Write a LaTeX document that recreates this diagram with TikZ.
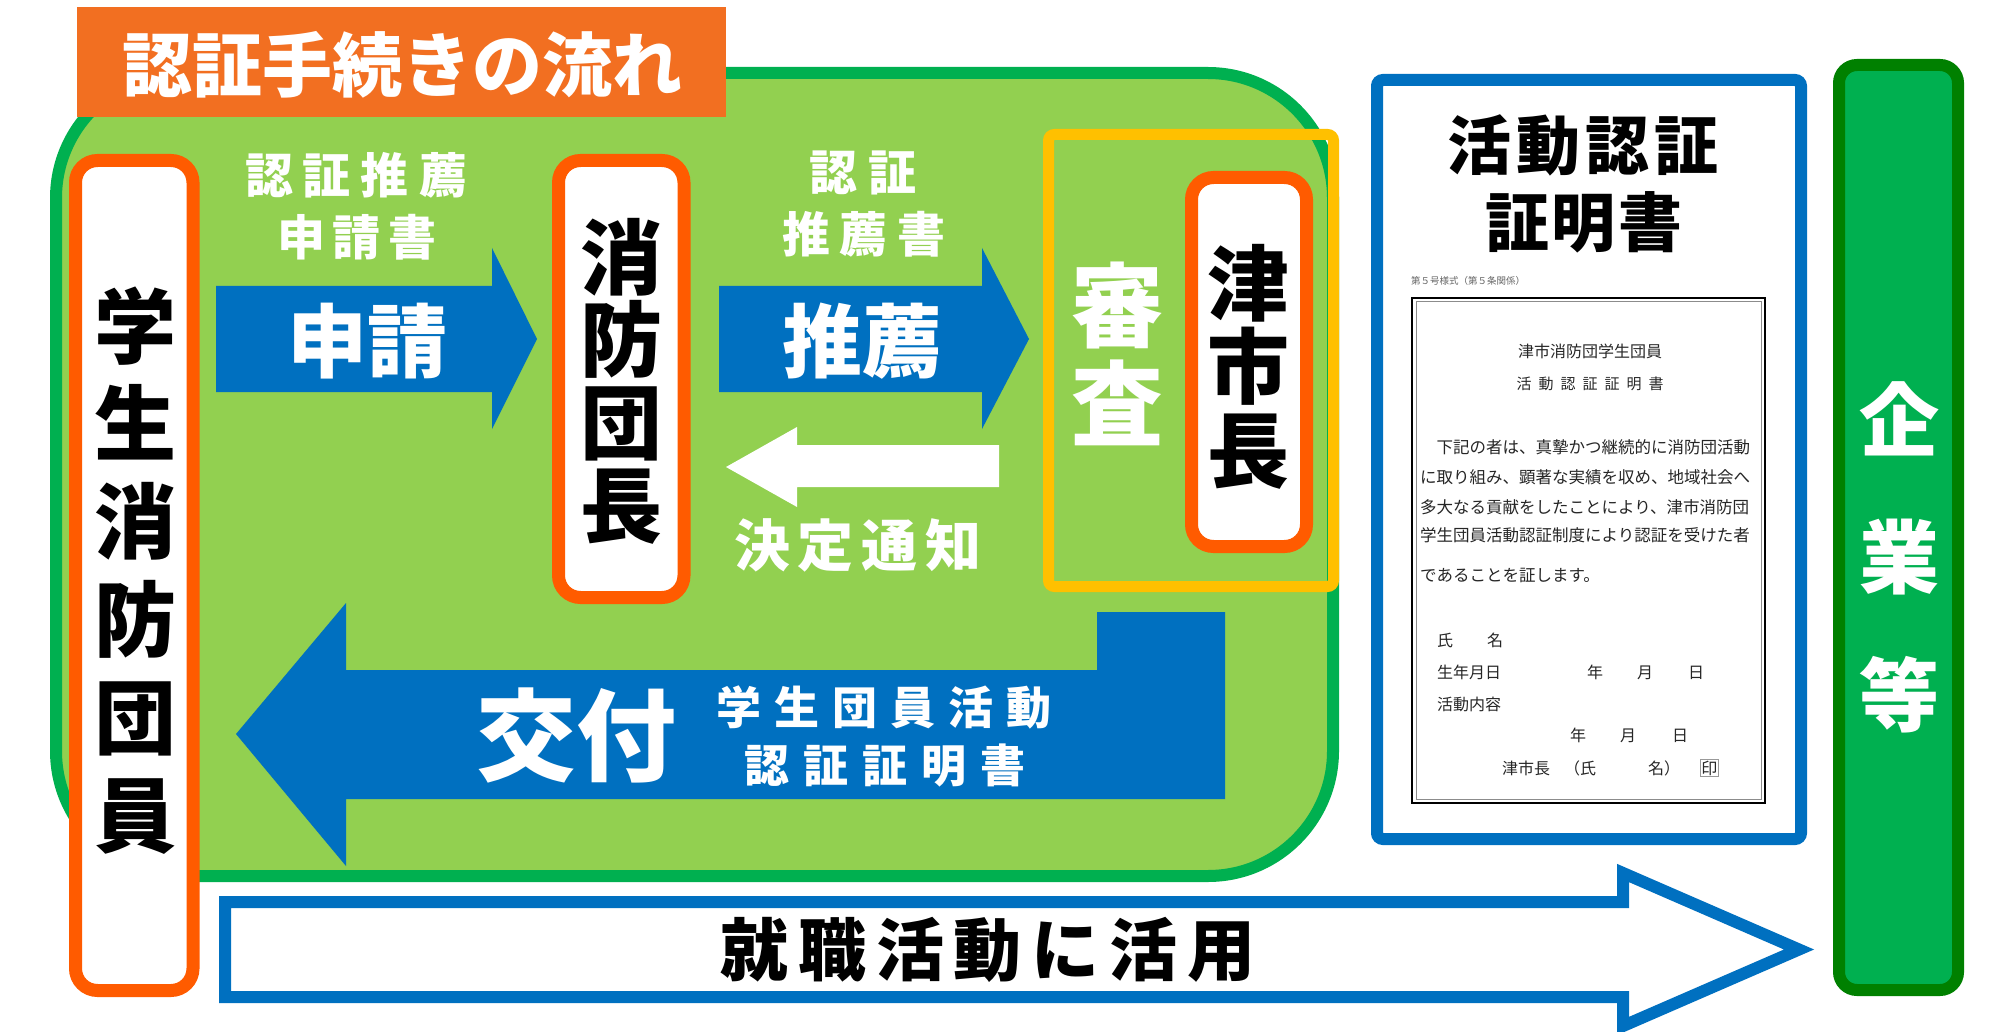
\documentclass[tikz,border=0pt]{standalone}
\usepackage{fontspec}
\newfontfamily\jp{Noto Sans CJK JP}
\IfFontExistsTF{Noto Sans CJK JP Black}
  {\newfontfamily\jpb{Noto Sans CJK JP Black}}
  {\IfFontExistsTF{Noto Sans CJK JP Bold}
     {\newfontfamily\jpb{Noto Sans CJK JP Bold}[FakeBold=1]}
     {\newfontfamily\jpb{Noto Sans CJK JP}[FakeBold=2]}}
\definecolor{panelgreen}{RGB}{146,208,80}
\definecolor{bordergreen}{RGB}{0,176,80}
\definecolor{darkgreen}{RGB}{0,128,0}
\definecolor{myblue}{RGB}{0,112,192}
\definecolor{titleorange}{RGB}{242,111,33}
\definecolor{boxorange}{RGB}{255,91,0}
\definecolor{myyellow}{RGB}{255,192,0}
\tikzset{
  jt/.style={font=\jpb\fontsize{#1}{#1}\selectfont, inner sep=0pt, anchor=base, yshift=-0.38*#1},
  dt/.style={font=\jp\fontsize{#1}{#1}\selectfont, inner sep=0pt, anchor=base west, yshift=-0.38*#1, text=black!85},
  obox/.style={draw=boxorange, line width=13, fill=white, rounded corners=22, inner sep=0pt},
  blockarrow/.style={fill=myblue},
}
\begin{document}
\begin{tikzpicture}[x=1pt,y=-1pt]
\useasboundingbox (0,0) rectangle (2000,1032);
\fill[white] (0,0) rectangle (2000,1032);
% panel
\draw[line width=12, draw=bordergreen, fill=panelgreen, rounded corners=125] (56,73) rectangle (1333,876);
% title
\fill[titleorange] (77,7) rectangle (726,117);
\node[jt=70, text=white] (title) at (402,65) {認証手続きの流れ};
% boxes
\node[obox, minimum width=117.5, minimum height=830] (student) at (134.25,575.5) {};
\node[obox, minimum width=125.5, minimum height=437] (chief) at (621.25,379) {};
\node[obox, minimum width=115, minimum height=369] (mayor) at (1249,362) {};
\node[draw=myyellow, line width=11, rounded corners=6, minimum width=285, minimum height=452, inner sep=0pt] (review) at (1191,360.5) {};
% vertical texts
\foreach \c [count=\i from 0] in {学,生,消,防,団,員}
  \node[jt=82, name=s\i] at (135,{326+97.8*\i}) {\c};
\foreach \c [count=\i from 0] in {消,防,団,長}
  \node[jt=82, name=c\i] at (621,{257+82.7*\i}) {\c};
\foreach \c [count=\i from 0] in {津,市,長}
  \node[jt=82, name=m\i] at (1248,{283+83.5*\i}) {\c};
\foreach \c [count=\i from 0] in {審,査}
  \node[jt=92, text=white, name=r\i] at (1117,{306+98*\i}) {\c};
% arrows
\fill[blockarrow] (216,286) -- (492,286) -- (492,248) -- (537,339) -- (492,429) -- (492,392) -- (216,392) -- cycle;
\fill[blockarrow] (719,286) -- (982,286) -- (982,248) -- (1029,339) -- (982,429) -- (982,392) -- (719,392) -- cycle;
\fill[white] (999,445) -- (797,445) -- (797,427) -- (726,467) -- (797,507) -- (797,487) -- (999,487) -- cycle;
\fill[blockarrow] (236,734) -- (346,603) -- (346,670) -- (1097,670) -- (1097,612) -- (1225,612) -- (1225,799) -- (346,799) -- (346,866) -- cycle;
% arrow texts
\node[jt=80, text=white] (apply) at (367,341) {申請};
\node[jt=80, text=white] (recommend) at (862,341) {推薦};
\node[jt=48, text=white] (l1) at (356,175) {認\hspace{10pt}証\hspace{10pt}推\hspace{10pt}薦};
\node[jt=48, text=white] (l2) at (357,237) {申\hspace{8pt}請\hspace{8pt}書};
\node[jt=48, text=white] (l3) at (863,172) {認\hspace{11pt}証};
\node[jt=48, text=white] (l4) at (864,234) {推\hspace{10pt}薦\hspace{10pt}書};
\node[jt=56, text=white] (notice) at (858,545) {決\hspace{8pt}定\hspace{8pt}通\hspace{8pt}知};
\node[jt=100, text=white] (issue) at (576,735) {交付};
\node[jt=45, text=white] (l5) at (884,707) {学\hspace{13pt}生\hspace{13pt}団\hspace{13pt}員\hspace{13pt}活\hspace{13pt}動};
\node[jt=45, text=white] (l6) at (885,765) {認\hspace{14pt}証\hspace{14pt}証\hspace{14pt}明\hspace{14pt}書};
% certificate
\node[draw=myblue, line width=12, fill=white, rounded corners=6, minimum width=424, minimum height=759, inner sep=0pt] (cert) at (1589,459.5) {};
\node[jt=64] (ct1) at (1583,145) {活\hspace{5pt}動\hspace{5pt}認\hspace{5pt}証};
\node[jt=64] (ct2) at (1584,222) {証\hspace{3pt}明\hspace{3pt}書};
\node[dt=9.5, text=black!60] (form) at (1411,281) {第５号様式（第５条関係）};
\draw[line width=2.5] (1412,298) rectangle (1765,803);
\draw[black!45, line width=1] (1416,302) rectangle (1761,799);
\node[dt=16, anchor=base] (d1) at (1590,351) {津市消防団学生団員};
\node[dt=15, anchor=base] (d2) at (1590,384) {活\hspace{7pt}動\hspace{7pt}認\hspace{7pt}証\hspace{7pt}証\hspace{7pt}明\hspace{7pt}書};
\node[dt=16.5] (b1) at (1420,447) {　下記の者は、真摯かつ継続的に消防団活動};
\node[dt=16.5] (b2) at (1420,477) {に取り組み、顕著な実績を収め、地域社会へ};
\node[dt=16.5] (b3) at (1420,507) {多大なる貢献をしたことにより、津市消防団};
\node[dt=16.5] (b4) at (1420,535) {学生団員活動認証制度により認証を受けた者};
\node[dt=16.5] (b5) at (1420,575) {であることを証します。};
\node[dt=16] (f1) at (1437,640) {氏};
\node[dt=16] (f2) at (1487,640) {名};
\node[dt=16] (f3) at (1437,672) {生年月日};
\node[dt=16] (f4) at (1587,672) {年};
\node[dt=16] (f5) at (1637,672) {月};
\node[dt=16] (f6) at (1688,672) {日};
\node[dt=16] (f7) at (1437,704) {活動内容};
\node[dt=16] (f8) at (1570,735) {年};
\node[dt=16] (f9) at (1620,735) {月};
\node[dt=16] (f10) at (1672,735) {日};
\node[dt=16] (f11) at (1502,768) {津市長};
\node[dt=16] (f12) at (1564,768) {（氏};
\node[dt=16] (f13) at (1648,768) {名）};
\node[dt=16, draw=black!40, line width=0.6, inner sep=1pt] (seal) at (1700,768) {印};
% company
\node[draw=darkgreen, fill=bordergreen, line width=12, rounded corners=18, minimum width=119, minimum height=925, inner sep=0pt] (company) at (1898.5,527.5) {};
\foreach \c [count=\i from 0] in {企,業,等}
  \node[jt=80, text=white, name=k\i] at (1899,{420+137.5*\i}) {\c};
% bottom arrow
\draw[myblue, line width=12, fill=white, line join=miter, miter limit=10] (225,902) -- (1623,902) -- (1623,873) -- (1799,949.5) -- (1623,1026) -- (1623,997) -- (225,997) -- cycle;
\node[jt=68] (job) at (988,950) {就\hspace{10pt}職\hspace{10pt}活\hspace{10pt}動\hspace{10pt}に\hspace{10pt}活\hspace{10pt}用};
\end{tikzpicture}
\end{document}
